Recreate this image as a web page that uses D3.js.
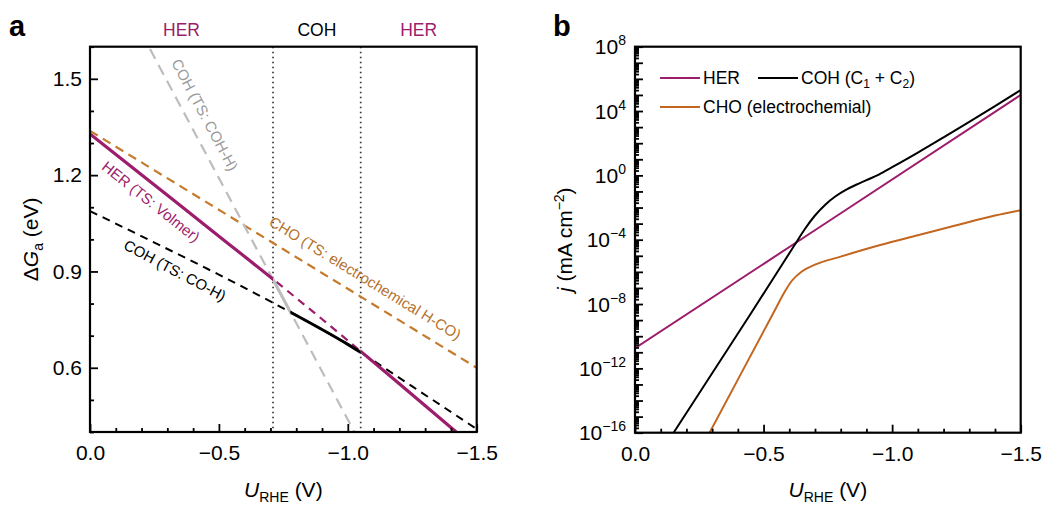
<!DOCTYPE html>
<html>
<head>
<meta charset="utf-8">
<script src="https://cdn.jsdelivr.net/npm/d3@7"></script>
<style>
  body { margin: 0; background: #fff; }
  svg { display: block; font-family: "Liberation Sans", Arial, Helvetica, sans-serif; }
</style>
</head>
<body>
<svg id="chart" width="1042" height="506"></svg>
<script>
// ---------- Panel a: activation free energy vs. potential ----------
const potentialA   = [0, -0.25, -0.5, -0.75, -1.0, -1.25, -1.5];
const herBarrier   = [1.328, 1.169, 1.010, 0.850, 0.685, 0.516, 0.346];   // HER (TS: Volmer)
const cohBarrier   = [1.088, 0.990, 0.890, 0.785, 0.673, 0.542, 0.409];   // COH (TS: CO-H)
const choBarrier   = [1.338, 1.215, 1.092, 0.969, 0.846, 0.723, 0.600];   // CHO (TS: electrochemical H-CO)
const cohHPotential = [-0.2, -1.1];
const cohHBarrier   = [1.642, 0.288];                                     // COH (TS: COH-H)

// potential windows of the dominant pathway
const regimeNames  = ["HER", "COH", "HER"];
const regimeBounds = [0, -0.71, -1.05, -1.5];
const cohSwitch    = -0.778;   // COH-H and CO-H barriers cross here

const ticksAx = [0, -0.5, -1.0, -1.5];
const ticksAy = [0.6, 0.9, 1.2, 1.5];

// ---------- Panel b: partial current densities ----------
const potentialHer = [0, -0.75, -1.5];
const jHer         = [1.8e-11, 1.3e-3, 1.0e5];
const potentialCoh = [-0.15, -0.30, -0.45, -0.55, -0.62, -0.66, -0.70, -0.74, -0.78, -0.82, -0.86, -0.90, -0.95, -1.0, -1.1, -1.2, -1.3, -1.4, -1.5];
const jCoh         = [1e-16, 5.0e-13, 2.5e-9, 7.9e-7, 4.5e-5, 4.5e-4, 3.2e-3, 1.5e-2, 5.0e-2, 0.126, 0.26, 0.50, 1.15, 3.2, 26, 230, 2.1e3, 2.0e4, 2.0e5];
const potentialCho = [-0.29, -0.40, -0.50, -0.55, -0.58, -0.61, -0.65, -0.70, -0.80, -0.95, -1.10, -1.25, -1.40, -1.5];
const jCho         = [1e-16, 2.0e-13, 2.0e-10, 6.3e-9, 5.0e-8, 2.8e-7, 1.1e-6, 2.8e-6, 8.9e-6, 4.5e-5, 1.9e-4, 7.9e-4, 3.2e-3, 6.9e-3];

const ticksBx   = [0, -0.5, -1.0, -1.5];
const expLabels = [8, 4, 0, -4, -8, -12, -16];

const PURPLE = "#9c1d6b", ORANGE_A = "#c57a2c", ORANGE_B = "#c3661f", GREY = "#bdbdbd";
const MINUS = "\u2212";
const fmt = v => (v < 0 ? MINUS : "") + Math.abs(v).toFixed(1);

const svg = d3.select("#chart");
const defs = svg.append("defs");

function clipRect(id, x0, x1, y0, y1) {
  defs.append("clipPath").attr("id", id).append("rect")
    .attr("x", Math.min(x0, x1)).attr("y", Math.min(y0, y1))
    .attr("width", Math.abs(x1 - x0)).attr("height", Math.abs(y1 - y0));
  return `url(#${id})`;
}

// ================= Panel a =================
const A = { left: 90, right: 476.7, top: 46.7, bottom: 432 };
const xA = d3.scaleLinear().domain([0, -1.5]).range([A.left, A.right]);
const yA = d3.scaleLinear().domain([0.4, 1.6]).range([A.bottom, A.top]);
const gA = svg.append("g");

const lineA = d3.line().x(d => xA(d[0])).y(d => yA(d[1])).curve(d3.curveMonotoneX);
const zip = (a, b) => a.map((v, i) => [v, b[i]]);

const herPts = zip(potentialA, herBarrier);
const cohPts = zip(potentialA, cohBarrier);
const choPts = zip(potentialA, choBarrier);
const cohHPts = zip(cohHPotential, cohHBarrier);

let clipN = 0;
function segment(g, pts, from, to, style) {
  const id = "clipA" + (clipN++);
  g.append("path").datum(pts).attr("d", lineA)
    .attr("fill", "none")
    .attr("stroke", style.color).attr("stroke-width", style.width)
    .attr("stroke-dasharray", style.dash || null)
    .attr("clip-path", clipRect(id, xA(from), xA(to), A.top, A.bottom));
}

// regime separators
gA.selectAll("line.sep").data(regimeBounds.slice(1, -1)).join("line")
  .attr("x1", d => xA(d)).attr("x2", d => xA(d))
  .attr("y1", A.top).attr("y2", A.bottom)
  .attr("stroke", "#333").attr("stroke-width", 1.7)
  .attr("stroke-dasharray", "1.5 3.5");

// dashed barrier lines
segment(gA, choPts, 0, -1.5, { color: ORANGE_A, width: 2.2, dash: "9 6" });
segment(gA, cohHPts, 0, -1.5, { color: GREY, width: 2.2, dash: "11 7" });
segment(gA, cohPts, 0, -1.5, { color: "#000", width: 2, dash: "8 6" });
segment(gA, herPts, regimeBounds[1], regimeBounds[2], { color: PURPLE, width: 2.2, dash: "8 6" });

// lowest barrier drawn solid
segment(gA, herPts, regimeBounds[0], regimeBounds[1], { color: PURPLE, width: 3.2 });
segment(gA, herPts, regimeBounds[2], regimeBounds[3], { color: PURPLE, width: 3.2 });
segment(gA, cohHPts, regimeBounds[1], cohSwitch, { color: GREY, width: 3 });
segment(gA, cohPts, cohSwitch, regimeBounds[2], { color: "#000", width: 3 });

// inline labels along lines
function slopeAngle(pts, i) {
  const a = pts[i], b = pts[i + 1];
  return Math.atan2(yA(b[1]) - yA(a[1]), xA(b[0]) - xA(a[0])) * 180 / Math.PI;
}
const inline = [
  { text: "COH (TS: COH-H)", u: -0.446, g: 1.388, angle: slopeAngle(cohHPts, 0), color: "#9a9a9a" },
  { text: "HER (TS: Volmer)", u: -0.237, g: 1.118, angle: slopeAngle(herPts, 1), color: PURPLE },
  { text: "COH (TS: CO-H)", u: -0.33, g: 0.904, angle: slopeAngle(cohPts, 1) + 1.5, color: "#000" },
  { text: "CHO (TS: electrochemical H-CO)", u: -1.068, g: 0.88, angle: slopeAngle(choPts, 3), color: "#b5722c" }
];
gA.selectAll("text.inline").data(inline).join("text")
  .attr("transform", d => `translate(${xA(d.u)},${yA(d.g)}) rotate(${d.angle})`)
  .attr("text-anchor", "middle").attr("dominant-baseline", "central")
  .attr("font-size", 15).attr("fill", d => d.color)
  .text(d => d.text);

// regime labels on top
gA.selectAll("text.regime").data(regimeNames).join("text")
  .attr("x", (d, i) => xA((regimeBounds[i] + regimeBounds[i + 1]) / 2))
  .attr("y", 36).attr("text-anchor", "middle").attr("font-size", 17.5)
  .attr("fill", d => d === "HER" ? PURPLE : "#000").text(d => d);

// axes of panel a
const minorAx = d3.range(0, 16).map(i => -i / 10).filter(v => !ticksAx.some(t => Math.abs(t - v) < 1e-9));
const minorAy = d3.range(4, 17).map(i => i / 10).filter(v => !ticksAy.some(t => Math.abs(t - v) < 1e-9));

function styleAxis(g) {
  g.select(".domain").remove();
  g.selectAll(".tick line").attr("stroke", "#000").attr("stroke-width", 1.8);
  g.selectAll(".tick text").attr("font-size", 21).attr("fill", "#000").attr("font-family", null);
}
gA.append("g").attr("transform", `translate(0,${A.bottom})`)
  .call(d3.axisBottom(xA).tickValues(minorAx).tickSizeInner(-4).tickSizeOuter(0).tickFormat(""))
  .call(styleAxis);
gA.append("g").attr("transform", `translate(0,${A.bottom})`)
  .call(d3.axisBottom(xA).tickValues(ticksAx).tickSizeInner(-8).tickSizeOuter(0).tickPadding(13).tickFormat(fmt))
  .call(styleAxis);
gA.append("g").attr("transform", `translate(${A.left},0)`)
  .call(d3.axisLeft(yA).tickValues(minorAy).tickSizeInner(-4).tickSizeOuter(0).tickFormat(""))
  .call(styleAxis);
gA.append("g").attr("transform", `translate(${A.left},0)`)
  .call(d3.axisLeft(yA).tickValues(ticksAy).tickSizeInner(-8).tickSizeOuter(0).tickPadding(8).tickFormat(d3.format(".1f")))
  .call(styleAxis);

gA.append("rect").attr("x", A.left).attr("y", A.top)
  .attr("width", A.right - A.left).attr("height", A.bottom - A.top)
  .attr("fill", "none").attr("stroke", "#000").attr("stroke-width", 2.2);

// axis titles of panel a
const xTitleA = gA.append("text").attr("x", (A.left + A.right) / 2).attr("y", 497)
  .attr("text-anchor", "middle").attr("font-size", 21);
xTitleA.append("tspan").attr("font-style", "italic").text("U");
xTitleA.append("tspan").attr("font-size", 14).attr("dy", 5).text("RHE");
xTitleA.append("tspan").attr("dy", -5).text(" (V)");

const yTitleA = gA.append("text")
  .attr("transform", `translate(38,${(A.top + A.bottom) / 2}) rotate(-90)`)
  .attr("text-anchor", "middle").attr("font-size", 21);
yTitleA.append("tspan").text("\u0394");
yTitleA.append("tspan").attr("font-style", "italic").text("G");
yTitleA.append("tspan").attr("font-size", 14).attr("dy", 5).text("a");
yTitleA.append("tspan").attr("dy", -5).text(" (eV)");

svg.append("text").attr("x", 9).attr("y", 36).attr("font-size", 29).attr("font-weight", "bold").text("a");

// ================= Panel b =================
const B = { left: 635, right: 1020.7, top: 46.7, bottom: 432.7 };
const xB = d3.scaleLinear().domain([0, -1.5]).range([B.left, B.right]);
const yB = d3.scaleLog().domain([1e-16, 1e8]).range([B.bottom, B.top]);
const gB = svg.append("g");
const clipB = clipRect("clipB", B.left, B.right, B.top, B.bottom);

const lineB = d3.line().x(d => xB(d[0])).y(d => yB(d[1])).curve(d3.curveMonotoneX);
const seriesB = [
  { name: "CHO", pts: zip(potentialCho, jCho), color: ORANGE_B },
  { name: "HER", pts: zip(potentialHer, jHer), color: PURPLE },
  { name: "COH", pts: zip(potentialCoh, jCoh), color: "#000" }
];
gB.selectAll("path.curve").data(seriesB).join("path")
  .attr("d", d => lineB(d.pts)).attr("fill", "none")
  .attr("stroke", d => d.color).attr("stroke-width", 2)
  .attr("clip-path", clipB);

// axes of panel b
const minorBx = d3.range(0, 16).map(i => -i / 10).filter(v => !ticksBx.some(t => Math.abs(t - v) < 1e-9));
gB.append("g").attr("transform", `translate(0,${B.bottom})`)
  .call(d3.axisBottom(xB).tickValues(minorBx).tickSizeInner(-4).tickSizeOuter(0).tickFormat(""))
  .call(styleAxis);
gB.append("g").attr("transform", `translate(0,${B.bottom})`)
  .call(d3.axisBottom(xB).tickValues(ticksBx).tickSizeInner(-8).tickSizeOuter(0).tickPadding(13).tickFormat(fmt))
  .call(styleAxis);

const decades = d3.range(-16, 9).map(e => Math.pow(10, e));
const subDecades = [];
d3.range(-16, 8).forEach(e => { for (let m = 2; m <= 9; m++) subDecades.push(m * Math.pow(10, e)); });
gB.append("g").attr("transform", `translate(${B.left},0)`)
  .call(d3.axisLeft(yB).tickValues(subDecades).tickSizeInner(-4).tickSizeOuter(0).tickFormat(""))
  .call(styleAxis);
gB.append("g").attr("transform", `translate(${B.left},0)`)
  .call(d3.axisLeft(yB).tickValues(decades).tickSizeInner(-8).tickSizeOuter(0).tickFormat(""))
  .call(styleAxis);

const yLabB = gB.selectAll("text.ylab").data(expLabels).join("text")
  .attr("x", B.left - 9).attr("y", d => yB(Math.pow(10, d)))
  .attr("dy", "0.36em").attr("text-anchor", "end").attr("font-size", 21);
yLabB.append("tspan").text("10");
yLabB.append("tspan").attr("font-size", 14).attr("dy", -9).text(d => (d < 0 ? MINUS : "") + Math.abs(d));

gB.append("rect").attr("x", B.left).attr("y", B.top)
  .attr("width", B.right - B.left).attr("height", B.bottom - B.top)
  .attr("fill", "none").attr("stroke", "#000").attr("stroke-width", 2.2);

// legend
const legend = gB.append("g");
const legendItems = [
  { color: PURPLE, x: 660, y: 78, parts: [["HER"]] },
  { color: "#000", x: 758, y: 78, parts: [["COH (C"], ["1", "sub"], [" + C"], ["2", "sub"], [")"]] },
  { color: ORANGE_B, x: 660, y: 107, parts: [["CHO (electrochemial)"]] }
];
legendItems.forEach(it => {
  legend.append("line").attr("x1", it.x).attr("x2", it.x + 40).attr("y1", it.y).attr("y2", it.y)
    .attr("stroke", it.color).attr("stroke-width", 2);
  const t = legend.append("text").attr("x", it.x + 43).attr("y", it.y).attr("dy", "0.35em").attr("font-size", 17.5);
  let shifted = false;
  it.parts.forEach(([s, kind]) => {
    const sp = t.append("tspan").text(s);
    if (kind === "sub") { sp.attr("font-size", 12).attr("dy", 4); shifted = true; }
    else if (shifted) { sp.attr("dy", -4); shifted = false; }
  });
});

// axis titles of panel b
const xTitleB = gB.append("text").attr("x", (B.left + B.right) / 2).attr("y", 497)
  .attr("text-anchor", "middle").attr("font-size", 21);
xTitleB.append("tspan").attr("font-style", "italic").text("U");
xTitleB.append("tspan").attr("font-size", 14).attr("dy", 5).text("RHE");
xTitleB.append("tspan").attr("dy", -5).text(" (V)");

const yTitleB = gB.append("text")
  .attr("transform", `translate(572,${(B.top + B.bottom) / 2}) rotate(-90)`)
  .attr("text-anchor", "middle").attr("font-size", 21);
yTitleB.append("tspan").attr("font-style", "italic").text("j");
yTitleB.append("tspan").text(" (mA cm");
yTitleB.append("tspan").attr("font-size", 14).attr("dy", -8).text(MINUS + "2");
yTitleB.append("tspan").attr("dy", 8).text(")");

svg.append("text").attr("x", 553).attr("y", 36).attr("font-size", 29).attr("font-weight", "bold").text("b");
</script>
</body>
</html>
